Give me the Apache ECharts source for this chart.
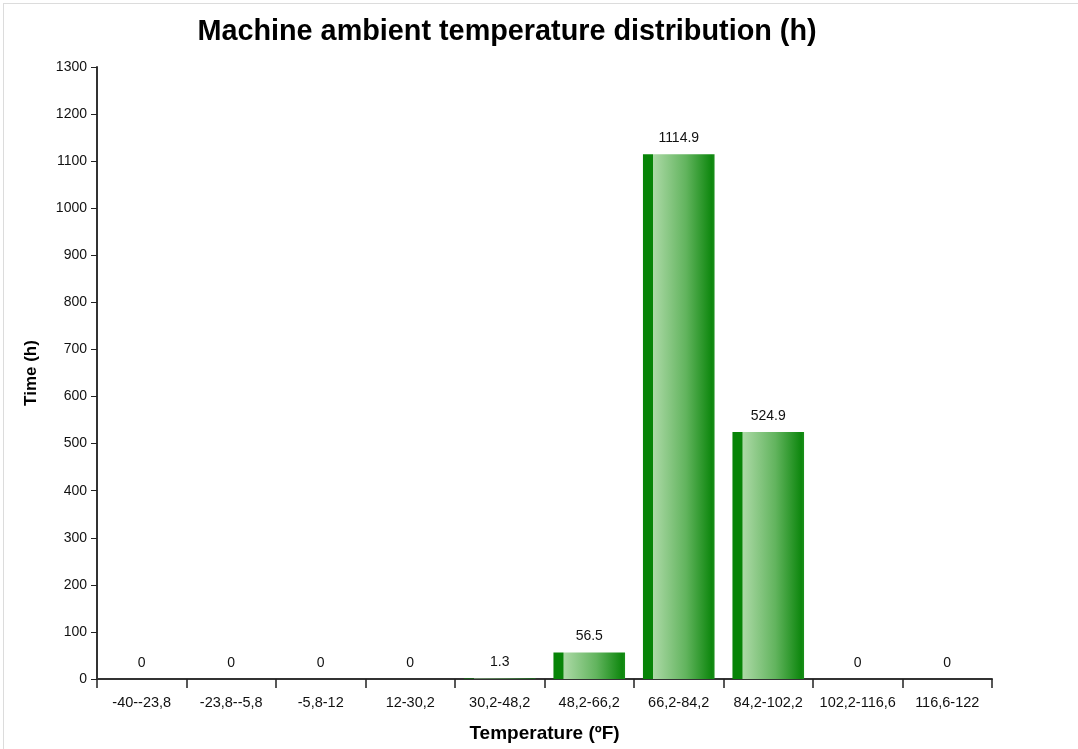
<!DOCTYPE html>
<html>
<head>
<meta charset="utf-8">
<title>Machine ambient temperature distribution</title>
<script src="https://cdn.jsdelivr.net/npm/echarts@6/dist/echarts.min.js"></script>
<style>
  html, body { margin: 0; padding: 0; background: #fff; overflow: hidden; }
  .frame { position: absolute; left: 3px; top: 3px; width: 1200px; height: 900px; border: 1px solid #dcdcdc; }
  #chart { position: absolute; left: 0; top: 0; width: 1078px; height: 749px; }
</style>
</head>
<body>
<div class="frame"></div>
<div id="chart"></div>
<script>
// 温度区间 (ºF)
var categories = ['-40--23,8', '-23,8--5,8', '-5,8-12', '12-30,2', '30,2-48,2',
  '48,2-66,2', '66,2-84,2', '84,2-102,2', '102,2-116,6', '116,6-122'];
// 时间 (h)
var hours = [0, 0, 0, 0, 1.3, 56.5, 1114.9, 524.9, 0, 0];
// y轴刻度
var yMin = 0;
var yMax = 1300;
var yStep = 100;

var chart = echarts.init(document.getElementById('chart'));

// 柱子的渐变：左边一条深绿，中间浅绿往右变深
var barColor = new echarts.graphic.LinearGradient(0, 0, 1, 0, [
  { offset: 0, color: '#078407' },
  { offset: 0.135, color: '#078407' },
  { offset: 0.145, color: '#acd9a6' },
  { offset: 0.6, color: '#62b45e' },
  { offset: 0.96, color: '#0e870e' },
  { offset: 1, color: '#1b8f1b' }
]);

var option = {
  animation: false,
  textStyle: { fontFamily: 'Liberation Sans, Arial, sans-serif' },
  title: {
    text: 'Machine ambient temperature distribution (h)',
    left: 502,
    textAlign: 'center',
    top: 13,
    textStyle: { fontSize: 28.8, fontWeight: 'bold', color: '#000', fontFamily: 'Liberation Sans, Arial, sans-serif' }
  },
  // v6 默认会把轴名字算进边界，这里关掉，按像素放
  grid: { left: 97, right: 86, top: 67, bottom: 70, containLabel: false, outerBoundsMode: 'none' },
  xAxis: {
    type: 'category',
    data: categories,
    name: 'Temperature (ºF)',
    nameLocation: 'middle',
    nameGap: 45,
    nameTextStyle: { fontSize: 19, fontWeight: 'bold', color: '#000' },
    axisLine: { lineStyle: { color: '#333', width: 2 } },
    axisTick: { show: true, length: 9, alignWithLabel: false, lineStyle: { color: '#222', width: 1.5 } },
    axisLabel: { color: '#111', fontSize: 14.5, margin: 16, interval: 0 },
    splitLine: { show: false }
  },
  yAxis: {
    type: 'value',
    min: yMin,
    max: yMax,
    interval: yStep,
    name: 'Time (h)',
    nameLocation: 'middle',
    nameGap: 57,
    nameRotate: 90,
    nameTextStyle: { fontSize: 17, fontWeight: 'bold', color: '#000' },
    axisLine: { show: true, lineStyle: { color: '#333', width: 2 } },
    axisTick: { show: true, length: 6, lineStyle: { color: '#222' } },
    axisLabel: {
      color: '#111',
      fontSize: 14,
      margin: 10,
      formatter: function (v) { return String(v); }
    },
    splitLine: { show: false }
  },
  series: [{
    name: 'Time (h)',
    type: 'bar',
    data: hours,
    barWidth: '80%',
    itemStyle: { color: barColor },
    label: {
      show: true,
      position: 'top',
      distance: 9,
      color: '#111',
      fontSize: 14
    }
  }]
};

chart.setOption(option);
</script>
</body>
</html>
